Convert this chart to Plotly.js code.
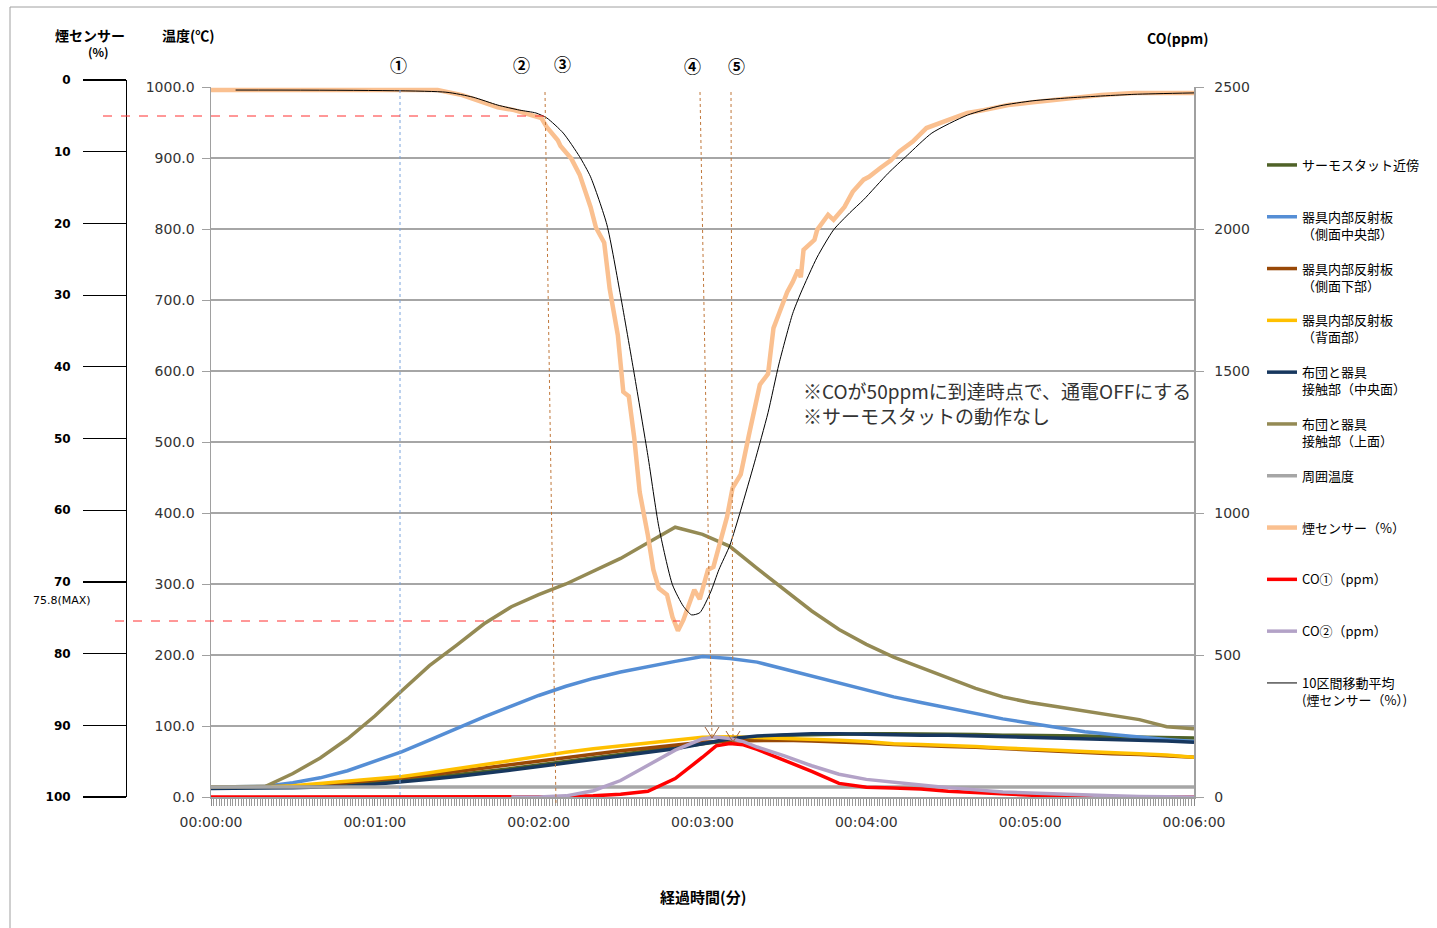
<!DOCTYPE html>
<html><head><meta charset="utf-8">
<script src="https://cdn.plot.ly/plotly-3.0.1.min.js"></script>
<style>html,body{margin:0;padding:0;background:#fff;}#chart{width:1437px;height:928px;}</style>
</head><body><div id="chart"></div>
<script>
// ---- data (time in seconds) ----
const tTemp = [0,10,20,30,40,50,60,70,80,90,100,110,120,130,140,150,160,170,180,190,200,210,220,230,240,250,260,270,280,290,300,310,320,330,340,350,360];
const thermostat = [13,13,13,14,15,17,20,23,27,31,35,40,45,50,55,60,65,70,76,81,85,87,88,89,89,89,89,88,88,87,87,86,86,85,84,84,83];
const sideCenter = [14,14,15,20,27,37,50,64,80,97,113,128,143,156,167,176,184,191,198,195,190,180,170,160,150,141,133,125,118,110,104,98,92,88,84,81,78];
const sideLower  = [14,14,14,15,17,20,23,27,31,36,41,46,51,56,61,65,69,73,77,79,80,80,79,78,76,74,72,71,70,68,66,64,63,61,60,58,56];
const backPanel  = [14,14,14,16,19,22,25,29,34,40,46,51,57,63,68,72,77,80,84,85,84,83,82,80,78,75,74,73,71,69,68,66,64,63,61,59,56];
const futonCenter= [12,12,12,13,14,15,18,21,25,29,33,38,43,48,53,58,63,68,75,82,86,88,89,89,88,88,87,87,86,85,85,84,83,82,80,79,77];
const futonTop   = [14,14,15,33,55,82,114,150,185,214,244,268,285,300,318,336,358,380,370,353,322,292,262,236,215,197,182,167,153,141,133,127,121,115,109,99,96];
const ambient    = [14,14,14,14,13.5,14,14,14,14,14,13.5,14,14,14,14,14,14,14,14,14,14,14,14,14,14,14,14,14,14,14,14,14,14,14,14,14,14];

const tCO = [0,10,20,30,40,50,60,70,80,90,100,110,120,130,140,150,160,170,180,185,190,195,200,210,220,230,240,250,260,270,280,290,300,310,320,330,340,350,360];
const co1 = [0,0,0,0,0,0,0,0,0,0,0,0,0,1,4,10,20,65,140,180,188,184,168,130,90,48,34,32,28,20,15,9,5,2,0,0,0,0,0];
const co2 = [null,null,null,null,null,null,null,null,null,null,null,0,0,4,22,58,110,165,205,211,206,195,176,145,110,80,62,51,42,33,25,18,14,10,7,4,2,1,0];

const tSmoke = [0,83,92,99,105,111,117,121,123,127,128,132,135,139,141,144,146,149,151,153,155,157,160,162,164,167,169,171,173,175,177,179,182,184,186,189,191,194,197,201,204,206,208,211,213,215,216,217,221,222,226,228,232,235,239,241,245,249,252,257,262,270,277,283,292,301,314,326,338,360];
const smoke  = [1.4,1.4,2.1,3.1,3.8,4.2,4.9,5.3,6.6,8.4,9.2,11.0,13.2,17.7,20.6,22.7,29.1,35.6,43.5,44.1,49.9,57.5,63.5,68.3,70.9,71.8,74.9,76.8,75.3,73.4,71.1,72.4,68.3,67.9,64.9,60.9,56.9,55.0,49.5,42.5,41.0,34.6,32.6,29.6,28.2,26.5,27.5,23.7,22.3,20.9,18.8,19.5,17.7,15.6,13.9,13.5,12.3,11.2,10.0,8.6,6.7,5.6,4.6,4.2,3.5,3.1,2.5,2.1,1.8,1.8];
const tAvg = [9,86,96,105,113,119,123,129,135,139,145,150,155,160,164,169,173,176,179,183,186,190,194,199,204,208,213,216,222,228,234,239,248,255,264,277,289,301,314,338,360];
const smokeAvg = [1.4,1.7,2.4,3.5,4.2,4.6,5.3,7.4,10.7,13.5,20.2,30.1,41.0,52.4,62.3,70.4,73.4,74.6,74.3,71.4,68.3,64.9,60.0,53.4,46.4,39.6,32.6,29.7,24.7,20.9,18.5,16.7,13.0,10.5,7.4,4.9,3.6,2.9,2.5,2.0,1.8];

const xTickVals = [0,60,120,180,240,300,360];
const xTickText = ['00:00:00','00:01:00','00:02:00','00:03:00','00:04:00','00:05:00','00:06:00'];
const eventLabels = ['①','②','③','④','⑤'];

// ---- helpers for decorative drawing (pixel -> paper) ----
const W = 1437, H = 928;
const px = v => v / W, py = v => 1 - v / H;

const JP = 'Noto Sans CJK JP';
const NUM = 'DejaVu Sans';
const NB = '<br>&nbsp;';

function tr(name, x, y, color, width, axis, extra) {
  return Object.assign({type:'scatter', mode:'lines', name, x, y, yaxis: axis,
    line:{color, width}, legendgroup:name, connectgaps:false, hoverinfo:'skip'}, extra || {});
}

const traces = [
  tr('サーモスタット近傍'+NB, tTemp, thermostat, '#4f6228', 3.5, 'y'),
  tr('器具内部反射板<br>（側面中央部）', tTemp, sideCenter, '#558ed5', 3.5, 'y'),
  tr('器具内部反射板<br>（側面下部）', tTemp, sideLower, '#984807', 3.5, 'y'),
  tr('器具内部反射板<br>（背面部）', tTemp, backPanel, '#ffc000', 3.5, 'y'),
  tr('布団と器具<br>接触部（中央面）', tTemp, futonCenter, '#17375e', 3.5, 'y'),
  tr('布団と器具<br>接触部（上面）', tTemp, futonTop, '#948a54', 3.5, 'y'),
  tr('周囲温度'+NB, tTemp, ambient, '#a6a6a6', 3.5, 'y'),
  tr('煙センサー（%）'+NB, tSmoke, smoke, '#fac090', 4.5, 'y3'),
  tr('CO①（ppm）'+NB, tCO, co1, '#ff0000', 3.5, 'y2'),
  tr('CO②（ppm）'+NB, tCO, co2, '#b3a2c7', 3.5, 'y2'),
  tr('10区間移動平均<br>(煙センサー（%）)', tAvg, smokeAvg, '#000000', 1, 'y3', {line:{color:'#000', width:1, shape:'spline', smoothing:0.6}})
];

const shapes = [];
function seg(x0,y0,x1,y1,color,dash,width){
  shapes.push({type:'line', xref:'paper', yref:'paper', x0:px(x0), y0:py(y0), x1:px(x1), y1:py(y1),
    line:{color, dash:dash||'solid', width:width||1}, layer:'above'});
}
// outer frame
seg(10,7,1437,7,'#a0a0a0','solid',1);
seg(10,7,10,928,'#a0a0a0','solid',1);
// event markers
seg(400,90,400,797,'#7aa3dc','dot',1);
seg(545,92,556,805,'#c0773a','dot',1);
seg(700,92,712,738,'#c0773a','dot',1);
seg(731,92,733,742,'#c0773a','dot',1);
// arrow heads
seg(705,727,712,738,'#a0603a','solid',1); seg(712,738,719,727,'#a0603a','solid',1);
seg(726,731,733,742,'#a0603a','solid',1); seg(733,742,740,731,'#a0603a','solid',1);
// red dashed reference lines
seg(103,116,548,116,'#ff3030','dash',1);
seg(115,621,680,621,'#ff3030','dash',1);

const annotations = [];
function txt(text, x, y, opts){
  annotations.push(Object.assign({text, xref:'paper', yref:'paper', x:px(x), y:py(y), showarrow:false,
    xanchor:'center', yanchor:'middle', font:{family:JP, size:14, color:'#000'}}, opts||{}));
}
const evX = [398,521,562,692,736], evY = [65,65,63,66,66];
eventLabels.forEach((l,i)=>txt(l, evX[i], evY[i], {font:{family:JP, size:17, color:'#000', weight:'bold'}}));
txt('煙センサー', 90, 35, {font:{family:JP, size:14, color:'#000', weight:'bold'}});
txt('(%)', 98, 52, {font:{family:JP, size:12, color:'#000', weight:'bold'}});
txt('温度(℃)', 188, 35, {font:{family:JP, size:14, color:'#000', weight:'bold'}});
txt('CO(ppm)', 1178, 38, {font:{family:JP, size:14, color:'#000', weight:'bold'}});
txt('経過時間(分)', 703, 896, {font:{family:JP, size:15, color:'#000', weight:'bold'}});
txt('75.8(MAX)', 62, 600, {font:{family:NUM, size:11, color:'#000'}});
txt('※COが50ppmに到達時点で、通電OFFにする<br>※サーモスタットの動作なし', 801, 403,
    {xanchor:'left', align:'left', font:{family:JP, size:19, color:'#333'}});

const layout = {
  width: W, height: H,
  margin:{l:0, r:0, t:0, b:0},
  paper_bgcolor:'#fff', plot_bgcolor:'rgba(0,0,0,0)',
  showlegend:true,
  legend:{x:px(1262), xanchor:'left', y:py(150), yanchor:'top', valign:'top',
    font:{family:JP, size:13, color:'#000'}, tracegroupgap:15, itemwidth:30, bgcolor:'rgba(0,0,0,0)'},
  xaxis:{domain:[px(211), px(1194)], range:[0,360], tickmode:'array', tickvals:xTickVals, ticktext:xTickText,
    showgrid:false, zeroline:false, showline:true, linecolor:'#a0a0a0', linewidth:1.5,
    ticks:'outside', ticklen:7, tickcolor:'#888', ticklabelstandoff:5,
    minor:{dtick:1, tick0:0, ticks:'outside', ticklen:7, tickcolor:'#999', tickwidth:1, showgrid:false},
    tickfont:{family:NUM, size:14, color:'#333'}, anchor:'y', fixedrange:true},
  yaxis:{domain:[py(797), py(87)], range:[0,1000], dtick:100, tickformat:'.1f',
    showgrid:true, gridcolor:'#a6a6a6', gridwidth:1.3, zeroline:false,
    showline:true, linecolor:'#a0a0a0', linewidth:1.5, ticks:'outside', ticklen:8, tickcolor:'#a0a0a0',
    tickfont:{family:NUM, size:14, color:'#333'}, ticklabelstandoff:4, anchor:'x'},
  yaxis2:{overlaying:'y', side:'right', range:[0,2500], dtick:500, showgrid:false, zeroline:false,
    showline:true, linecolor:'#a0a0a0', linewidth:1.5, ticks:'outside', ticklen:8, tickcolor:'#a0a0a0',
    tickfont:{family:NUM, size:14, color:'#333'}, ticklabelstandoff:8, anchor:'x'},
  yaxis3:{domain:[py(797), py(80)], range:[100,0], dtick:10, anchor:'free', position:px(126), side:'left',
    showgrid:false, zeroline:false, showline:true, linecolor:'#000', linewidth:1.3,
    ticks:'outside', ticklen:43, tickcolor:'#000', tickwidth:1.2, ticklabelstandoff:10,
    tickfont:{family:NUM, size:12, color:'#000', weight:'bold'}},
  shapes, annotations
};

Plotly.newPlot('chart', traces, layout, {staticPlot:true});
</script></body></html>
